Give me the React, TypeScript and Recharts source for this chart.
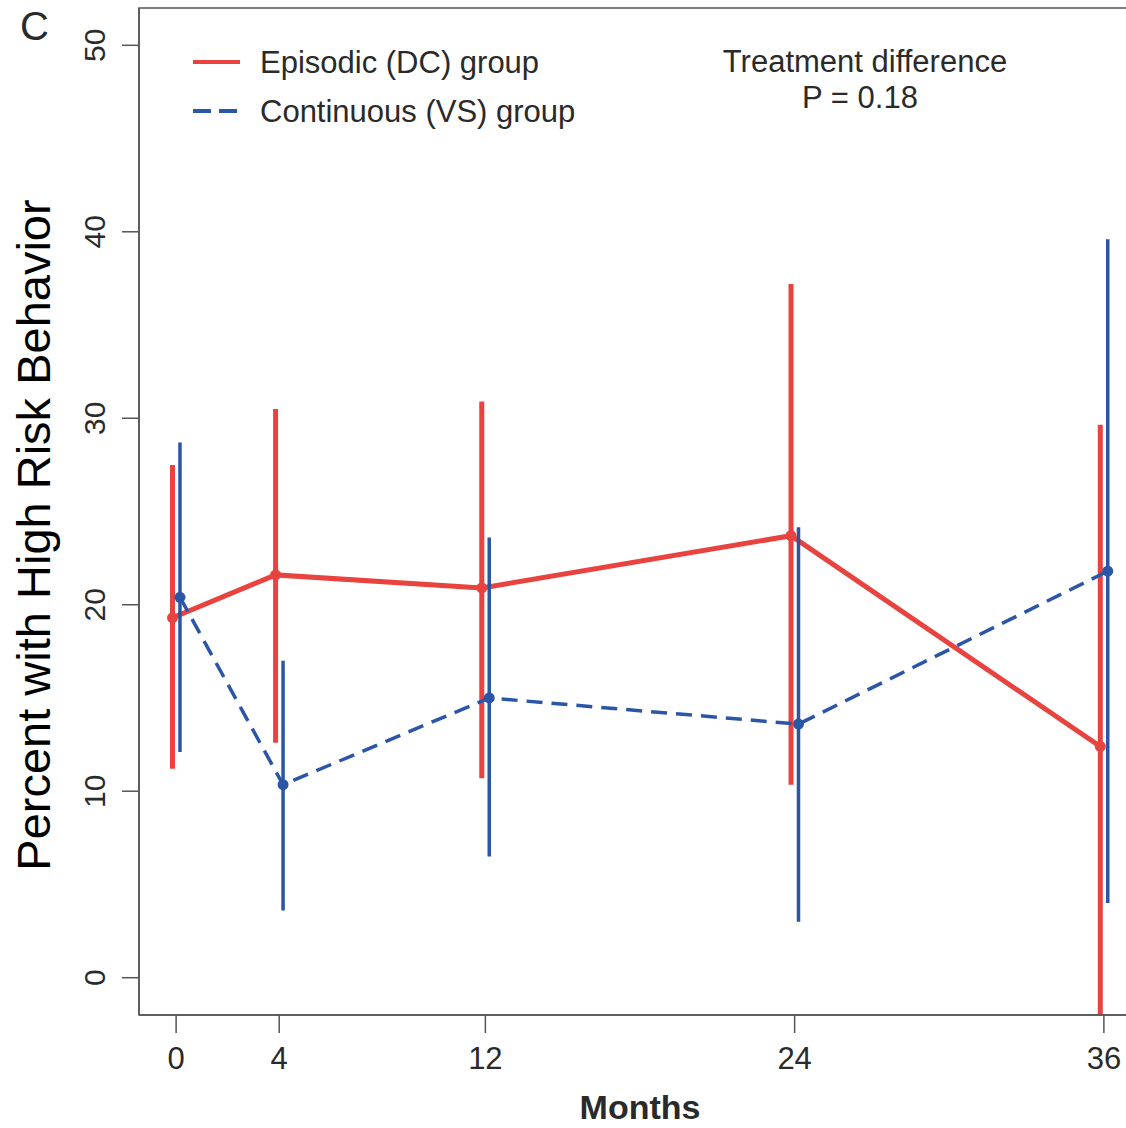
import React from 'react';
import { ComposedChart, Line, XAxis, YAxis, ErrorBar, ReferenceArea } from 'recharts';

const months = [0, 4, 12, 24, 36];
const monthTicks = [0, 4, 12, 24, 36];
const percentTicks = [0, 10, 20, 30, 40, 50];

const episodicMean = [19.3, 21.6, 20.9, 23.7, 12.4];
const episodicLow = [11.2, 12.6, 10.7, 10.35, -2.0];
const episodicHigh = [27.5, 30.5, 30.9, 37.2, 29.65];

const continuousMean = [20.4, 10.35, 15.0, 13.6, 21.8];
const continuousLow = [12.1, 3.6, 6.5, 3.0, 4.0];
const continuousHigh = [28.7, 17.0, 23.6, 24.15, 39.6];

const EPI_OFFSET = -0.14;
const CON_OFFSET = 0.15;

const RED = '#E8433F';
const BLUE = '#2B55A7';
const AXIS = '#555555';
const TEXT = '#2a2a2a';
const FONT = '"Liberation Sans", Arial, Helvetica, sans-serif';

const episodicData = months.map((m, i) => ({
  x: m + EPI_OFFSET,
  y: episodicMean[i],
  err: [episodicMean[i] - episodicLow[i], episodicHigh[i] - episodicMean[i]],
}));
const continuousData = months.map((m, i) => ({
  x: m + CON_OFFSET,
  y: continuousMean[i],
  err: [continuousMean[i] - continuousLow[i], continuousHigh[i] - continuousMean[i]],
}));

const YTick = (props: any) => {
  const { x, y, payload } = props;
  return (
    <text
      x={x}
      y={y}
      transform={`rotate(-90, ${x}, ${y})`}
      textAnchor="middle"
      fontSize={30}
      fontFamily={FONT}
      fill={TEXT}
    >
      {payload.value}
    </text>
  );
};

const XTick = (props: any) => {
  const { x, y, payload } = props;
  return (
    <text x={x} y={y} dy="0.71em" textAnchor="middle" fontSize={31} fontFamily={FONT} fill={TEXT}>
      {payload.value}
    </text>
  );
};

const Dot = (color: string) => (props: any) => {
  const { cx, cy, index } = props;
  if (cx == null || cy == null) return null;
  return <circle key={`d-${index}`} cx={cx} cy={cy} r={5.5} fill={color} stroke="none" />;
};

export default function App() {
  return (
    <div
      style={{
        position: 'absolute',
        left: 0,
        top: 0,
        width: 1126,
        height: 1128,
        overflow: 'hidden',
        background: '#ffffff',
      }}
    >
      <ComposedChart
        width={1160}
        height={1128}
        margin={{ top: 8, right: 19, bottom: 0, left: 0 }}
      >
        <XAxis
          type="number"
          dataKey="x"
          domain={[-1.44, 37.44]}
          allowDataOverflow
          ticks={monthTicks}
          interval={0}
          height={113}
          tickSize={18}
          tickMargin={14}
          tick={<XTick />}
          axisLine={{ stroke: AXIS, strokeWidth: 1.5 }}
          tickLine={{ stroke: AXIS, strokeWidth: 1.5 }}
        />
        <YAxis
          type="number"
          dataKey="y"
          domain={[-2, 52]}
          allowDataOverflow
          ticks={percentTicks}
          interval={0}
          width={139}
          tickSize={17}
          tickMargin={17}
          tick={<YTick />}
          axisLine={{ stroke: AXIS, strokeWidth: 1.5 }}
          tickLine={{ stroke: AXIS, strokeWidth: 1.5 }}
        />
        <ReferenceArea
          x1={-1.44}
          x2={37.44}
          y1={-2}
          y2={52}
          fill="none"
          stroke={AXIS}
          strokeWidth={1.5}
          ifOverflow="visible"
        />
        <Line
          data={episodicData}
          dataKey="y"
          type="linear"
          stroke={RED}
          strokeWidth={5}
          dot={Dot(RED)}
          activeDot={false}
          isAnimationActive={false}
        >
          <ErrorBar dataKey="err" direction="y" width={0} stroke={RED} strokeWidth={5} isAnimationActive={false} />
        </Line>
        <Line
          data={continuousData}
          dataKey="y"
          type="linear"
          stroke={BLUE}
          strokeWidth={3.5}
          strokeDasharray="16 9"
          dot={Dot(BLUE)}
          activeDot={false}
          isAnimationActive={false}
        >
          <ErrorBar dataKey="err" direction="y" width={0} stroke={BLUE} strokeWidth={3.5} isAnimationActive={false} />
        </Line>
      </ComposedChart>

      <svg
        width={1126}
        height={1128}
        style={{ position: 'absolute', left: 0, top: 0, pointerEvents: 'none' }}
      >
        <text x={20} y={40} fontSize={40} fontFamily={FONT} fill={TEXT}>C</text>
        <text
          x={50}
          y={535}
          transform="rotate(-90, 50, 535)"
          textAnchor="middle"
          fontSize={47}
          fontFamily={FONT}
          fill="#000"
        >
          Percent with High Risk Behavior
        </text>
        <text x={640} y={1119} textAnchor="middle" fontSize={34} fontWeight="bold" fontFamily={FONT} fill={TEXT}>
          Months
        </text>
        <line x1={193} y1={62} x2={240} y2={62} stroke={RED} strokeWidth={4} />
        <text x={260} y={73} fontSize={31} fontFamily={FONT} fill={TEXT}>Episodic (DC) group</text>
        <line x1={193} y1={111} x2={240} y2={111} stroke={BLUE} strokeWidth={4} strokeDasharray="18 8" />
        <text x={260} y={122} fontSize={31} fontFamily={FONT} fill={TEXT}>Continuous (VS) group</text>
        <text x={865} y={72} textAnchor="middle" fontSize={31} fontFamily={FONT} fill={TEXT}>Treatment difference</text>
        <text x={860} y={108} textAnchor="middle" fontSize={31} fontFamily={FONT} fill={TEXT}>P = 0.18</text>
      </svg>
    </div>
  );
}
